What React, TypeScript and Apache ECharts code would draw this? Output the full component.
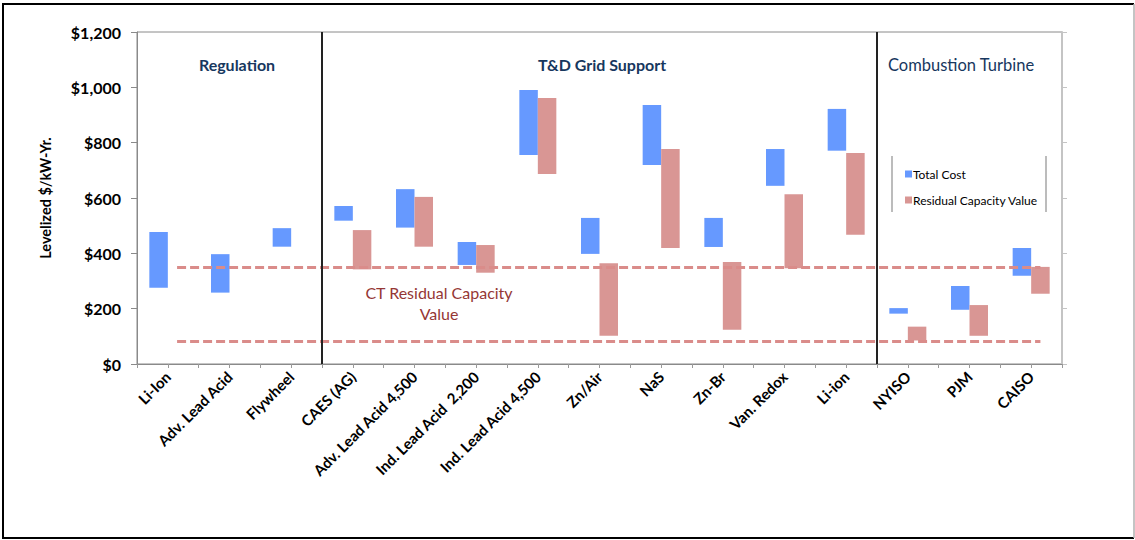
import React, { useEffect, useRef } from "react";
import * as echarts from "echarts";

const categories = [
  "Li-Ion",
  "Adv. Lead Acid",
  "Flywheel",
  "CAES (AG)",
  "Adv. Lead Acid 4,500",
  "Ind. Lead Acid  2,200",
  "Ind. Lead Acid 4,500",
  "Zn/Air",
  "NaS",
  "Zn-Br",
  "Van. Redox",
  "Li-ion",
  "NYISO",
  "PJM",
  "CAISO",
];

const totalCostLow = [276, 258, 424, 518, 493, 358, 755, 398, 719, 423, 644, 771, 182, 196, 319];
const totalCostHigh = [477, 397, 491, 571, 632, 441, 990, 528, 936, 528, 777, 922, 202, 282, 419];
const residualLow = [null, null, null, 342, 424, 330, 687, 102, 419, 124, 346, 467, 85, 102, 254];
const residualHigh = [null, null, null, 484, 604, 430, 961, 364, 777, 369, 614, 763, 135, 213, 351];

const ctResidualLevels = [350, 83];
const groupNames = ["Regulation", "T&D Grid Support", "Combustion Turbine"];
const groupBoundaries = [3, 12];
const yTicks = [0, 200, 400, 600, 800, 1000, 1200];

const BLUE = "#6699FF";
const RED = "#D99694";
const FONT = "Lato";

export default function App() {
  const ref = useRef<HTMLDivElement>(null);

  useEffect(() => {
    document.body.style.margin = "0";
    if (!ref.current) return;
    const chart = echarts.init(ref.current, null, { renderer: "svg" });

    const diff = (hi: (number | null)[], lo: (number | null)[]) =>
      hi.map((h, i) => (h == null || lo[i] == null ? null : (h as number) - (lo[i] as number)));

    const yMin = yTicks[0];
    const yMax = yTicks[yTicks.length - 1];
    const yInterval = yTicks[1] - yTicks[0];

    const separatorSeries = groupBoundaries.map((b, i) => ({
      name: "sep" + i,
      type: "line",
      xAxisIndex: 2,
      yAxisIndex: 0,
      data: [
        [b, yMin],
        [b, yMax],
      ],
      symbol: "none",
      silent: true,
      lineStyle: { color: "#222", width: 2 },
      z: 5,
    }));

    const option: any = {
      animation: false,
      textStyle: { fontFamily: FONT },
      grid: {
        left: 137,
        right: 73,
        top: 32,
        bottom: 176,
        show: true,
        borderColor: "#8a8a8a",
        borderWidth: 1,
      },
      legend: {
        orient: "vertical",
        left: 900,
        top: 163,
        itemWidth: 7,
        itemHeight: 7,
        itemGap: 14,
        icon: "rect",
        data: ["Total Cost", "Residual Capacity Value"],
        textStyle: { fontSize: 12, color: "#000", fontFamily: FONT, padding: [0, 0, 0, -4] },
        selectedMode: false,
      },
      xAxis: [
        {
          type: "category",
          data: categories,
          position: "bottom",
          axisLine: { show: true, lineStyle: { color: "#8a8a8a", width: 1 } },
          axisTick: { show: false },
          axisLabel: {
            rotate: 45,
            interval: 0,
            margin: 10,
            fontSize: 15,
            fontWeight: "bold",
            color: "#000",
            fontFamily: FONT,
          },
          splitLine: { show: false },
        },
        {
          type: "category",
          data: new Array(categories.length * 2).fill(""),
          position: "bottom",
          axisLine: { show: false },
          axisTick: { show: true, length: 4, lineStyle: { color: "#999" } },
          axisLabel: { show: false },
          splitLine: { show: false },
        },
        {
          type: "value",
          min: 0,
          max: categories.length,
          show: false,
        },
      ],
      yAxis: [
        {
          type: "value",
          min: yMin,
          max: yMax,
          interval: yInterval,
          name: "Levelized $/kW-Yr.",
          nameLocation: "middle",
          nameGap: 84,
          nameTextStyle: { fontSize: 14.5, fontWeight: "bold", color: "#000", fontFamily: FONT },
          axisLine: { show: true, lineStyle: { color: "#8a8a8a" } },
          axisTick: { show: true, length: 6, lineStyle: { color: "#8a8a8a" } },
          axisLabel: {
            margin: 16,
            fontSize: 16,
            fontWeight: "bold",
            color: "#000",
            fontFamily: FONT,
            formatter: (v: number) => "$" + v.toLocaleString("en-US"),
          },
          splitLine: { show: false },
        },
        {
          type: "value",
          min: yMin,
          max: yMax,
          interval: yInterval,
          position: "right",
          axisLine: { show: true, lineStyle: { color: "#c4c4c4", width: 2 } },
          axisTick: { show: true, length: 5, lineStyle: { color: "#c4c4c4" } },
          axisLabel: { show: false },
          splitLine: { show: false },
        },
      ],
      series: [
        {
          name: "tcBase",
          type: "bar",
          stack: "tc",
          data: totalCostLow,
          barWidth: "30%",
          barGap: "0%",
          itemStyle: { color: "transparent" },
          silent: true,
        },
        {
          name: "Total Cost",
          type: "bar",
          stack: "tc",
          data: diff(totalCostHigh, totalCostLow),
          barWidth: "30%",
          barGap: "0%",
          itemStyle: { color: BLUE },
        },
        {
          name: "rcBase",
          type: "bar",
          stack: "rc",
          data: residualLow,
          barWidth: "30%",
          barGap: "0%",
          itemStyle: { color: "transparent" },
          silent: true,
          markLine: {
            silent: true,
            symbol: "none",
            label: { show: false },
            lineStyle: { color: "#DA8C8A", width: 3, type: [9, 4] },
            data: ctResidualLevels.map((v) => [
              { coord: [0, v] },
              { coord: [categories.length - 1, v] },
            ]),
            z: 4,
          },
        },
        {
          name: "Residual Capacity Value",
          type: "bar",
          stack: "rc",
          data: diff(residualHigh, residualLow),
          barWidth: "30%",
          barGap: "0%",
          itemStyle: { color: RED },
        },
        ...separatorSeries,
      ],
      graphic: [
        {
          type: "polyline",
          shape: { points: [[1134, 4], [3, 4], [3, 538], [1134, 538]] },
          style: { stroke: "#000", lineWidth: 2, fill: "none" },
          silent: true,
        },
        {
          type: "line",
          shape: { x1: 1134, y1: 4, x2: 1134, y2: 538 },
          style: { stroke: "#b0b0b0", lineWidth: 1.5 },
          silent: true,
        },
        {
          type: "text",
          x: 237,
          y: 64,
          style: {
            text: groupNames[0],
            fill: "#17375E",
            font: `bold 16px ${FONT}`,
            textAlign: "center",
            textVerticalAlign: "middle",
          },
        },
        {
          type: "text",
          x: 602,
          y: 64,
          style: {
            text: groupNames[1],
            fill: "#17375E",
            font: `bold 16px ${FONT}`,
            textAlign: "center",
            textVerticalAlign: "middle",
          },
        },
        {
          type: "text",
          x: 961,
          y: 65,
          style: {
            text: groupNames[2],
            fill: "#17375E",
            font: `16.5px ${FONT}`,
            textAlign: "center",
            textVerticalAlign: "middle",
          },
        },
        {
          type: "text",
          x: 439,
          y: 292,
          style: {
            text: "CT Residual Capacity",
            fill: "#953735",
            font: `16px ${FONT}`,
            textAlign: "center",
            textVerticalAlign: "middle",
          },
        },
        {
          type: "text",
          x: 439,
          y: 313,
          style: {
            text: "Value",
            fill: "#953735",
            font: `16px ${FONT}`,
            textAlign: "center",
            textVerticalAlign: "middle",
          },
        },
        {
          type: "line",
          shape: { x1: 892, y1: 156, x2: 892, y2: 212 },
          style: { stroke: "#a6a6a6", lineWidth: 1.5 },
        },
        {
          type: "line",
          shape: { x1: 1046, y1: 156, x2: 1046, y2: 212 },
          style: { stroke: "#a6a6a6", lineWidth: 1.5 },
        },
      ],
    };

    chart.setOption(option);
    return () => chart.dispose();
  }, []);

  return <div ref={ref} style={{ width: 1135, height: 540 }} />;
}
